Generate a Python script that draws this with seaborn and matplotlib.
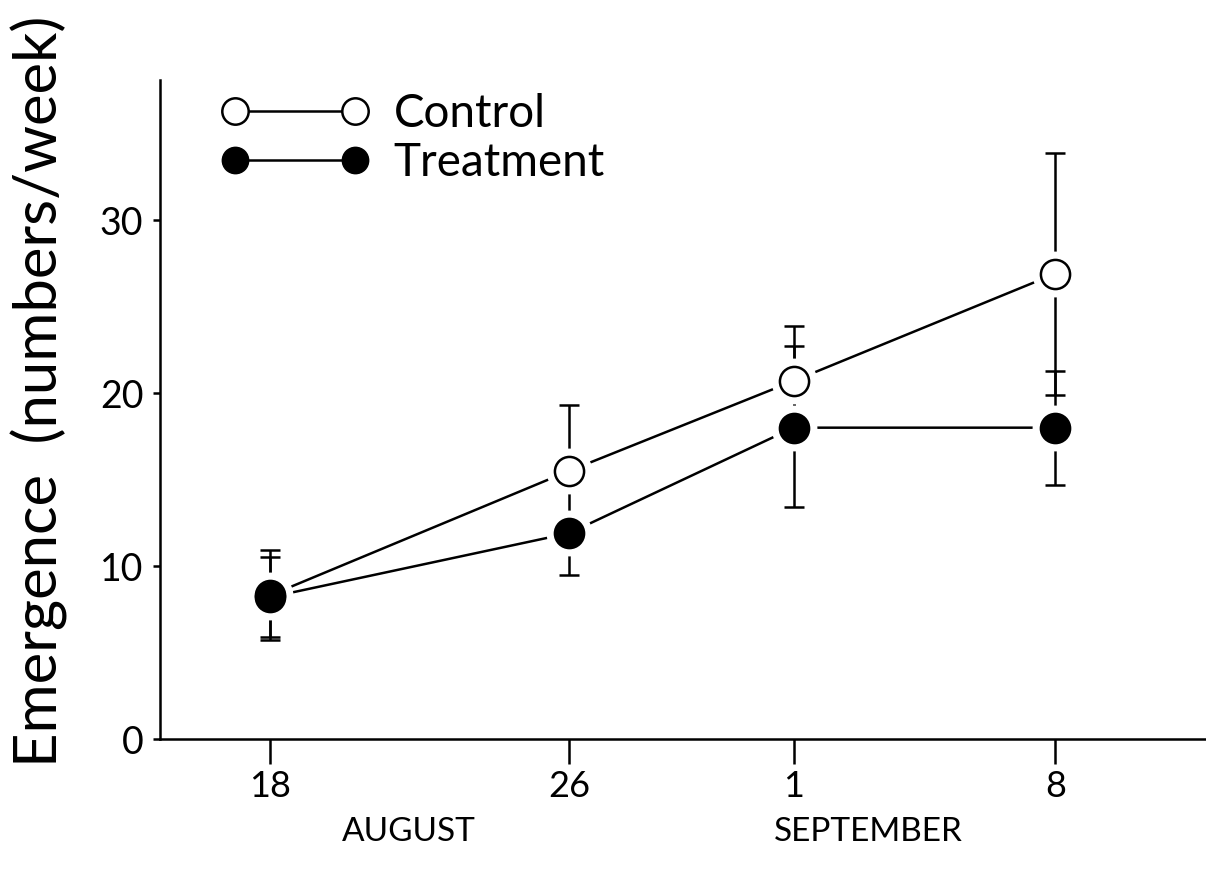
import numpy as np
import pandas as pd
import matplotlib
matplotlib.use("Agg")
import matplotlib.pyplot as plt
import matplotlib.transforms as mtransforms
from matplotlib.lines import Line2D
import seaborn as sns

# ---- data (days after 18 August) ----
days = [0, 8, 14, 21]
tick_labels = ["18", "26", "1", "8"]
month_labels = ["AUGUST", "SEPTEMBER"]
month_pos = [3.7, 16.0]

control = [8.3, 15.5, 20.7, 26.9]
control_err_lo = [2.6, 0.0, 3.2, 7.0]
control_err_hi = [2.6, 3.8, 3.2, 7.0]

treatment = [8.2, 11.9, 18.0, 18.0]
treatment_err_lo = [2.3, 2.4, 4.6, 3.3]
treatment_err_hi = [2.3, 2.5, 4.7, 3.3]

df = pd.DataFrame({
    "day": days * 2,
    "value": control + treatment,
    "group": ["Control"] * 4 + ["Treatment"] * 4,
})

sns.set_theme(style="ticks")
plt.rcParams["font.family"] = ["Lato", "DejaVu Sans"]
plt.rcParams["text.color"] = "black"
plt.rcParams["xtick.labelcolor"] = "black"
plt.rcParams["ytick.labelcolor"] = "black"
plt.rcParams["axes.labelcolor"] = "black"

LW = 1.8

fig = plt.figure(figsize=(12.06, 8.84), dpi=100)
ax = fig.add_axes([0.1327, 0.164, 0.8673, 0.7455])

# lines
sns.lineplot(data=df, x="day", y="value", hue="group",
             palette={"Control": "black", "Treatment": "black"},
             linewidth=LW, legend=False, ax=ax, zorder=1)

# error bars
ax.errorbar(days, control, yerr=[control_err_lo, control_err_hi], fmt="none",
            ecolor="black", elinewidth=LW, capsize=7, capthick=LW, zorder=1)
ax.errorbar(days, treatment, yerr=[treatment_err_lo, treatment_err_hi], fmt="none",
            ecolor="black", elinewidth=LW, capsize=7, capthick=LW, zorder=1)

# white halos to produce the gaps around markers
ax.plot(days, control, linestyle="none", marker="o", markersize=32,
        markerfacecolor="white", markeredgecolor="white", zorder=2)
ax.plot(days, treatment, linestyle="none", marker="o", markersize=32,
        markerfacecolor="white", markeredgecolor="white", zorder=2)

# markers
ax.plot(days, control, linestyle="none", marker="o", markersize=21,
        markerfacecolor="white", markeredgecolor="black", markeredgewidth=LW, zorder=3)
ax.plot(days, treatment, linestyle="none", marker="o", markersize=21,
        markerfacecolor="black", markeredgecolor="black", markeredgewidth=LW, zorder=4)

ax.set_xlim(-2.94, 25.03)
ax.set_ylim(0, 38.1)
ax.set_xticks(days)
ax.set_xticklabels(tick_labels)
ax.set_yticks([0, 10, 20, 30])
ax.set_yticklabels(["0", "10", "20", "30"])

ax.tick_params(axis="x", direction="out", length=18, width=LW, labelsize=26, pad=4, color="black")
ax.tick_params(axis="y", direction="out", length=5, width=LW, labelsize=27, pad=7, color="black")

for side in ["top", "right"]:
    ax.spines[side].set_visible(False)
for side in ["left", "bottom"]:
    ax.spines[side].set_linewidth(LW)
    ax.spines[side].set_color("black")

ax.set_xlabel("")
ax.set_ylabel("Emergence  (numbers/week)", fontsize=43)
ax.yaxis.set_label_coords(-0.088, 0.527)

trans = mtransforms.blended_transform_factory(ax.transData, ax.transAxes)
for lbl, pos in zip(month_labels, month_pos):
    ax.text(pos, -0.141, lbl, transform=trans, ha="center", va="center", fontsize=24)

handles = [
    Line2D([0], [0], color="black", linewidth=LW, marker="o", markersize=19,
           markerfacecolor="white", markeredgecolor="black", markeredgewidth=LW),
    Line2D([0], [0], color="black", linewidth=LW, marker="o", markersize=19,
           markerfacecolor="black", markeredgecolor="black"),
]
ax.legend(handles, ["Control", "Treatment"], loc="upper left",
          bbox_to_anchor=(0.059, 0.98), frameon=False, numpoints=2,
          handlelength=3.2, handletextpad=0.55, labelspacing=0.15,
          borderpad=0, borderaxespad=0, fontsize=33)

fig.savefig("out.png", dpi=100)
